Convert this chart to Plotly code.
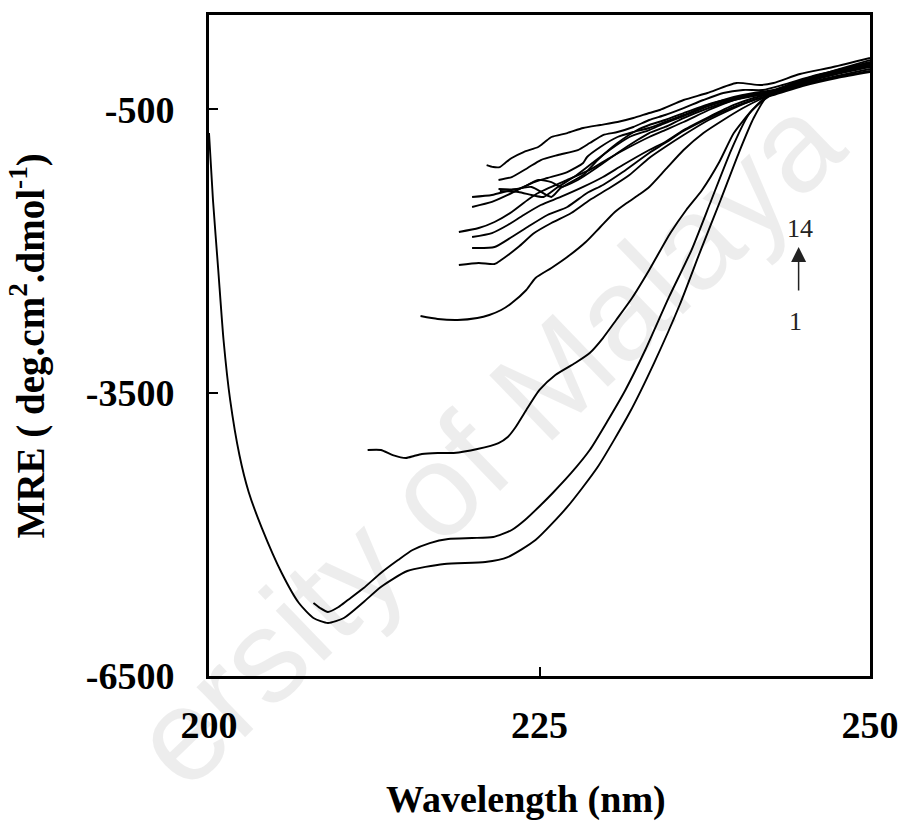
import plotly.graph_objects as go

# ---------------- data ----------------
wl_1 = [200.0, 200.3, 200.7, 201.1, 201.6, 202.3, 203.0, 204.0, 205.5, 206.8, 207.9, 209.0, 210.2, 211.7,
        213.0, 215.0, 217.8, 220.9, 222.6, 224.7, 227.1, 229.4, 231.8, 233.7, 235.6, 237.2, 238.7, 240.1,
        241.2, 242.3, 244.2, 247.2, 250.0]
mre_1 = [-750, -1459, -2200, -2942, -3577, -4160, -4551, -4933, -5409, -5727, -5886, -5939, -5886, -5716,
         -5557, -5388, -5314, -5293, -5240, -5060, -4710, -4287, -3715, -3175, -2571, -1989, -1459, -951,
         -591, -347, -241, -114, -8]

wl_2 = [207.9, 208.4, 209.0, 209.8, 210.5, 211.7, 213.0, 214.3, 215.4, 216.7, 218.1, 219.9, 221.5, 222.9,
        223.9, 225.1, 226.0, 227.4, 228.8, 230.1, 231.5, 233.0, 234.8, 236.5, 238.0, 239.5, 240.8, 242.1,
        244.2, 247.2, 250.0]
mre_2 = [-5727, -5780, -5822, -5769, -5695, -5568, -5409, -5272, -5166, -5092, -5049, -5039, -5028, -4954,
         -4848, -4689, -4562, -4350, -4107, -3810, -3471, -3048, -2486, -1989, -1459, -930, -559, -368,
         -220, -93, 23]

wl_3 = [212.0, 213.0, 213.9, 214.9, 215.5, 216.1, 217.3, 218.5, 220.3, 221.9, 222.6, 223.2, 224.0, 225.0,
        226.2, 227.7, 228.8, 229.8, 230.8, 232.0, 233.3, 234.9, 236.1, 237.3, 238.6, 239.7, 241.1, 242.3,
        244.2, 247.2, 250.0]
mre_3 = [-4107, -4107, -4160, -4191, -4170, -4149, -4138, -4138, -4096, -4033, -3969, -3863, -3683, -3471,
         -3312, -3185, -3079, -2921, -2730, -2497, -2200, -1809, -1565, -1353, -1057, -750, -506, -368,
         -241, -114, -30]

wl_4 = [216.0, 217.3, 218.8, 220.3, 221.2, 222.1, 222.9, 224.0, 224.7, 225.9, 227.1, 228.5, 229.6, 230.7,
        231.6, 232.6, 233.3, 234.5, 235.9, 237.4, 238.9, 240.4, 241.9, 243.0, 244.9, 247.5, 250.0]
mre_4 = [-2688, -2719, -2730, -2709, -2677, -2624, -2550, -2412, -2285, -2179, -2063, -1904, -1745, -1586,
         -1491, -1396, -1321, -1141, -930, -750, -612, -485, -379, -315, -210, -104, -40]

wl_5 = [218.9, 220.4, 221.6, 222.1, 223.4, 224.6, 225.9, 227.4, 228.8, 230.3, 231.8, 233.3, 234.5, 235.9,
        237.8, 239.7, 241.2, 242.7, 244.9, 247.5, 250.0]
mre_5 = [-2148, -2126, -2137, -2095, -1957, -1809, -1703, -1597, -1459, -1332, -1194, -1014, -898, -771,
         -612, -485, -400, -347, -252, -167, -104]

wl_6 = [219.9, 221.6, 222.9, 224.1, 225.6, 227.1, 228.6, 229.8, 231.3, 233.3, 234.5, 235.9, 237.8, 239.7,
        241.2, 242.7, 244.9, 247.5, 250.0]
mre_6 = [-1967, -1957, -1851, -1745, -1618, -1533, -1385, -1300, -1163, -961, -856, -728, -591, -474,
         -400, -337, -241, -157, -93]

wl_7 = [219.9, 221.4, 222.6, 223.8, 225.1, 226.6, 228.3, 229.8, 231.3, 233.3, 234.5, 235.9, 237.8, 239.7,
        241.2, 242.7, 244.9, 247.5, 250.0]
mre_7 = [-1851, -1809, -1724, -1618, -1512, -1427, -1321, -1216, -1089, -930, -845, -718, -580, -453,
         -379, -326, -210, -114, -40]

wl_8 = [218.9, 220.4, 221.6, 222.9, 224.1, 224.9, 227.1, 228.8, 230.3, 231.8, 233.3, 234.5, 235.9, 237.8,
        239.7, 241.2, 242.7, 244.9, 247.5, 250.0]
mre_8 = [-1798, -1756, -1692, -1586, -1459, -1385, -1247, -1141, -1014, -898, -792, -718, -633, -506,
         -400, -347, -305, -199, -104, -19]

wl_9 = [219.9, 221.4, 222.6, 223.8, 224.9, 225.9, 226.6, 227.9, 229.4, 230.9, 232.4, 233.3, 234.5, 235.9,
        237.8, 239.7, 241.2, 242.7, 244.9, 247.5, 250.0]
mre_9 = [-1533, -1480, -1406, -1321, -1247, -1269, -1321, -1247, -1110, -961, -824, -750, -686, -591,
         -485, -400, -358, -326, -231, -146, -72]

wl_10 = [219.9, 221.4, 222.9, 224.4, 225.9, 226.6, 228.3, 229.4, 230.9, 232.4, 233.3, 234.5, 235.9, 237.8,
         239.7, 241.2, 242.7, 244.9, 247.5, 250.0]
mre_10 = [-1427, -1406, -1353, -1321, -1427, -1332, -1194, -1036, -856, -718, -665, -612, -538, -443,
          -379, -337, -315, -220, -125, -51]

wl_11 = [222.0, 223.4, 224.4, 225.3, 226.4, 227.6, 228.8, 230.3, 231.8, 233.3, 234.5, 235.9, 237.8, 239.7,
         241.2, 242.7, 244.9, 247.5, 250.0]
mre_11 = [-1364, -1374, -1406, -1427, -1321, -1216, -1089, -930, -792, -718, -644, -570, -464, -390,
          -347, -315, -210, -114, -40]

wl_12 = [221.9, 223.4, 224.6, 225.6, 227.1, 228.3, 228.6, 229.6, 230.9, 232.1, 233.3, 234.5, 235.9, 237.8,
         239.7, 241.2, 242.7, 244.9, 247.5, 250.0]
mre_12 = [-1343, -1343, -1269, -1226, -1163, -1067, -1004, -898, -792, -739, -697, -633, -559, -453,
          -368, -326, -294, -188, -93, -30]

wl_13 = [221.9, 222.9, 224.1, 225.1, 226.4, 227.9, 228.8, 229.8, 230.9, 232.1, 233.3, 234.5, 235.9, 237.4,
         238.9, 240.4, 241.9, 243.4, 245.7, 247.9, 250.0]
mre_13 = [-1247, -1216, -1120, -1036, -983, -930, -856, -771, -739, -686, -612, -559, -485, -400,
          -326, -294, -294, -241, -146, -72, 2]

wl_14 = [221.0, 221.5, 222.0, 222.4, 222.9, 223.8, 224.9, 225.4, 225.9, 227.1, 228.3, 229.6, 230.9, 232.1,
         233.3, 234.1, 235.9, 237.7, 239.9, 241.7, 242.7, 244.7, 247.2, 250.0]
mre_14 = [-1089, -1110, -1110, -1067, -1014, -951, -898, -845, -792, -750, -697, -665, -633, -591,
          -538, -506, -400, -326, -220, -241, -220, -125, -51, 45]

x_ticks = [200, 225, 250]
y_ticks = [-500, -3500, -6500]
x_title = "Wavelength (nm)"
y_title = "MRE ( deg.cm<sup>2</sup>.dmol<sup>-1</sup>)"
arrow_labels = ["14", "1"]
watermark = "ersity of Malaya"

curves = [(wl_1, mre_1), (wl_2, mre_2), (wl_3, mre_3), (wl_4, mre_4), (wl_5, mre_5),
          (wl_6, mre_6), (wl_7, mre_7), (wl_8, mre_8), (wl_9, mre_9), (wl_10, mre_10),
          (wl_11, mre_11), (wl_12, mre_12), (wl_13, mre_13), (wl_14, mre_14)]

# ---------------- figure ----------------
SERIF = "Liberation Serif, Times New Roman, serif"
fig = go.Figure()
for i, (wl, mre) in enumerate(curves):
    fig.add_trace(go.Scatter(x=wl, y=mre, mode="lines", name=str(i + 1),
                             line=dict(color="black", width=1.9, shape="spline", smoothing=0.6),
                             showlegend=False, hoverinfo="skip"))

axis_common = dict(ticks="inside", ticklen=9, tickwidth=2, tickcolor="black",
                   showline=True, linewidth=3, linecolor="black", mirror=True,
                   showgrid=False, zeroline=False, ticklabeloverflow="allow",
                   tickfont=dict(family=SERIF, size=38, color="black", weight="bold"))

fig.update_layout(
    width=911, height=825,
    margin=dict(l=209, r=33, t=15, b=149),
    paper_bgcolor="white", plot_bgcolor="white",
    xaxis=dict(range=[200, 250], tickvals=x_ticks, ticktext=[str(v) for v in x_ticks],
               ticklabelstandoff=13, **axis_common),
    yaxis=dict(range=[-6500, 500], tickvals=y_ticks, ticktext=[str(v) for v in y_ticks],
               ticklabelstandoff=24, **axis_common),
)

annotations = [
    # faint watermark (the visible part of the source's watermark)
    dict(text=watermark, xref="paper", yref="paper", x=0.42, y=0.357, xanchor="center", yanchor="middle",
         textangle=-44, showarrow=False,
         font=dict(family="Liberation Sans, Arial, sans-serif", size=132, color="rgba(0,0,0,0.07)")),
    dict(text=x_title, xref="paper", yref="paper", x=0.48, y=-0.187, xanchor="center", yanchor="middle",
         showarrow=False, font=dict(family=SERIF, size=38, color="black", weight="bold")),
    dict(text=y_title, xref="paper", yref="paper", x=-0.274, y=0.5, xanchor="center", yanchor="middle",
         textangle=-90, showarrow=False, font=dict(family=SERIF, size=39, color="black", weight="bold")),
    dict(text=arrow_labels[0], x=244.7, y=-1756, xref="x", yref="y", showarrow=False,
         font=dict(family=SERIF, size=26, color="#222")),
    dict(text=arrow_labels[1], x=244.4, y=-2751, xref="x", yref="y", showarrow=False,
         font=dict(family=SERIF, size=26, color="#222")),
    dict(text="", x=244.6, y=-1957, ax=244.6, ay=-2433, xref="x", yref="y", axref="x", ayref="y",
         showarrow=True, arrowhead=2, arrowsize=2, arrowwidth=1.5, arrowcolor="#222"),
]
fig.update_layout(annotations=annotations)

fig.write_html("out.html")
